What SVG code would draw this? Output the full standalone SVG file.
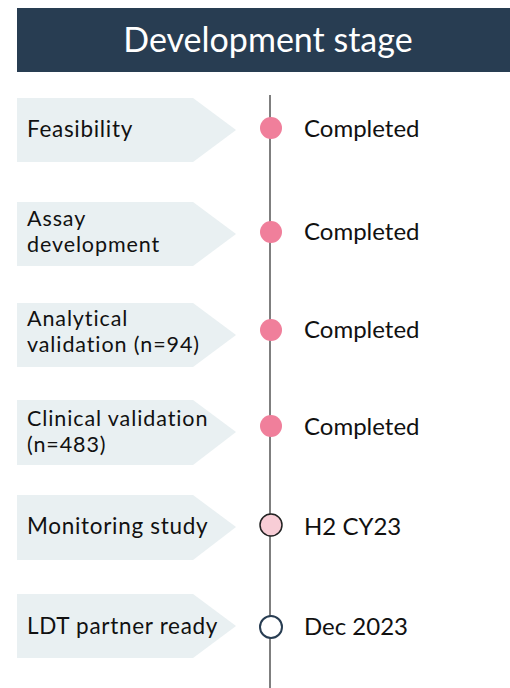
<svg xmlns="http://www.w3.org/2000/svg" width="510" height="688" viewBox="0 0 510 688">
<style>
.chev{fill:#e9f0f2}
.lbl{font-family:Lato,"Liberation Sans",sans-serif;font-size:21.5px;letter-spacing:0.9px;fill:#111}
.one{font-size:22.5px;letter-spacing:0.7px}
.val{font-family:Lato,"Liberation Sans",sans-serif;font-size:24px;fill:#111}
.done{fill:#f07f9b}
.prog{fill:#f8cdd6;stroke:#222;stroke-width:1.5}
.todo{fill:#fff;stroke:#283d52;stroke-width:2}
.axis{stroke:#555;stroke-width:1.5}
</style>
<rect x="17" y="8" width="493" height="64" fill="#283d52"/>
<text x="268" y="52" text-anchor="middle" font-family="Lato,'Liberation Sans',sans-serif" font-size="34" fill="#fff">Development stage</text>
<g id="connectors">
<line class="axis" x1="270" y1="95" x2="270" y2="688"/>
</g>
<g id="n1">
<polygon class="chev" points="17,98 193,98 236,130 193,162 17,162"/>
<text class="lbl one" x="27" y="137">Feasibility</text>
<circle class="done" cx="271" cy="128" r="11"/>
<text class="val" x="304" y="137">Completed</text>
</g>
<g id="n2">
<polygon class="chev" points="17,202 193,202 236,234 193,266 17,266"/>
<text class="lbl" x="27" y="226">Assay</text>
<text class="lbl" x="27" y="252">development</text>
<circle class="done" cx="271" cy="232" r="11"/>
<text class="val" x="304" y="240">Completed</text>
</g>
<g id="n3">
<polygon class="chev" points="17,303 193,303 236,335 193,367 17,367"/>
<text class="lbl" x="27" y="326">Analytical</text>
<text class="lbl" x="27" y="352">validation (n=94)</text>
<circle class="done" cx="271" cy="330" r="11"/>
<text class="val" x="304" y="338">Completed</text>
</g>
<g id="n4">
<polygon class="chev" points="17,400 193,400 236,432 193,465 17,465"/>
<text class="lbl" x="27" y="426">Clinical validation</text>
<text class="lbl" x="27" y="452">(n=483)</text>
<circle class="done" cx="271" cy="426" r="11"/>
<text class="val" x="304" y="435">Completed</text>
</g>
<g id="n5">
<polygon class="chev" points="17,495 193,495 236,527 193,560 17,560"/>
<text class="lbl one" x="27" y="534">Monitoring study</text>
<circle class="prog" cx="271" cy="525" r="11"/>
<text class="val" x="304" y="535">H2 CY23</text>
</g>
<g id="n6">
<polygon class="chev" points="17,594 193,594 236,626 193,658 17,658"/>
<text class="lbl one" x="27" y="634">LDT partner ready</text>
<circle class="todo" cx="271" cy="627" r="11"/>
<text class="val" x="304" y="635">Dec 2023</text>
</g>
</svg>
